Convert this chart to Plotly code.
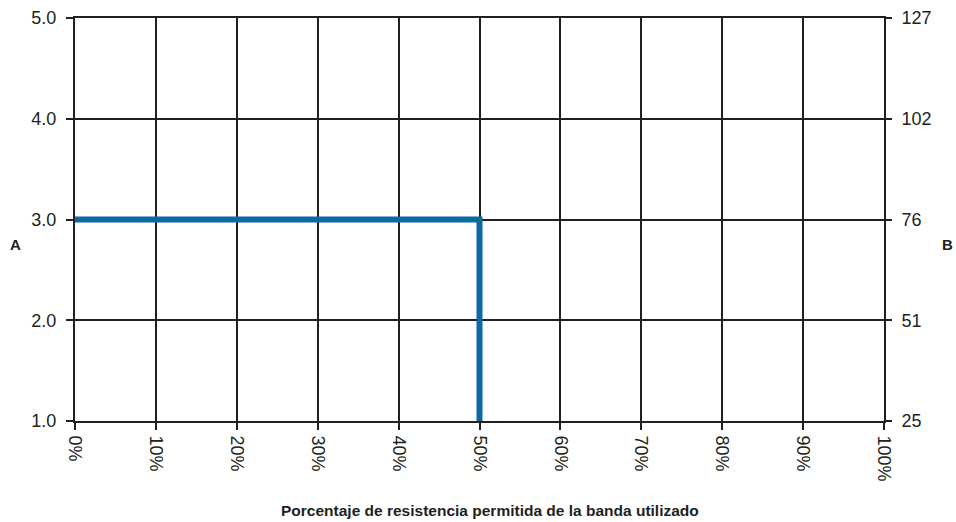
import plotly.graph_objects as go

# Data
pct_x = [0, 50, 50]
a_vals = [3.0, 3.0, 1.0]
x_ticks = [0, 10, 20, 30, 40, 50, 60, 70, 80, 90, 100]
left_ticks = [1.0, 2.0, 3.0, 4.0, 5.0]
right_tick_labels = ["25", "51", "76", "102", "127"]

INK = "#231f20"
BLUE = "#0b69a3"
FONT = "Liberation Sans, Arial, sans-serif"

fig = go.Figure()
fig.add_trace(go.Scatter(x=pct_x, y=a_vals, mode="lines",
                         line=dict(color=BLUE, width=6),
                         cliponaxis=False, showlegend=False, hoverinfo="skip"))
# invisible trace to activate right axis
fig.add_trace(go.Scatter(x=[0], y=[1.0], yaxis="y2", mode="markers",
                         marker=dict(opacity=0), showlegend=False, hoverinfo="skip"))

fig.update_layout(
    width=956, height=522,
    margin=dict(l=75, r=72, t=18, b=101, autoexpand=False),
    plot_bgcolor="white", paper_bgcolor="white",
    font=dict(family=FONT, color=INK, size=18),
    xaxis=dict(range=[0, 100], tickvals=x_ticks,
               ticktext=[f"{v}%" for v in x_ticks], tickangle=90,
               showgrid=True, gridcolor=INK, gridwidth=2,
               showline=True, linecolor=INK, linewidth=2, mirror=True,
               ticks="outside", ticklen=7, tickwidth=2, tickcolor=INK,
               zeroline=False, tickfont=dict(size=18), automargin=False,
               ticklabelstandoff=2),
    yaxis=dict(range=[1, 5], tickvals=left_ticks,
               ticktext=[f"{v:.1f}" for v in left_ticks],
               showgrid=True, gridcolor=INK, gridwidth=2,
               showline=True, linecolor=INK, linewidth=2, mirror=True,
               ticks="outside", ticklen=7, tickwidth=2, tickcolor=INK,
               zeroline=False, tickfont=dict(size=18), automargin=False,
               ticklabelstandoff=6),
    yaxis2=dict(range=[1, 5], overlaying="y", side="right",
                tickvals=left_ticks, ticktext=right_tick_labels,
                showgrid=False, ticks="outside", ticklen=7, tickwidth=2,
                tickcolor=INK, zeroline=False, tickfont=dict(size=18),
                automargin=False, ticklabelstandoff=6),
    annotations=[
        dict(text="<b>A</b>", xref="paper", yref="paper", x=-0.074, y=0.437,
             xanchor="center", yanchor="middle",
             showarrow=False, font=dict(size=15, family=FONT)),
        dict(text="<b>B</b>", xref="paper", yref="paper", x=1.078, y=0.437,
             xanchor="center", yanchor="middle",
             showarrow=False, font=dict(size=15, family=FONT)),
        dict(text="<b>Porcentaje de resistencia permitida de la banda utilizado</b>",
             xref="paper", yref="paper", x=(490 - 75) / 809, y=-(510 - 421) / 403,
             xanchor="center", yanchor="middle", showarrow=False,
             font=dict(size=15.5, family="Liberation Sans Narrow, Arial Narrow, sans-serif")),
    ],
)

fig.write_html("out.html", config={"displayModeBar": False},
               post_script="document.body.style.margin='0';")
